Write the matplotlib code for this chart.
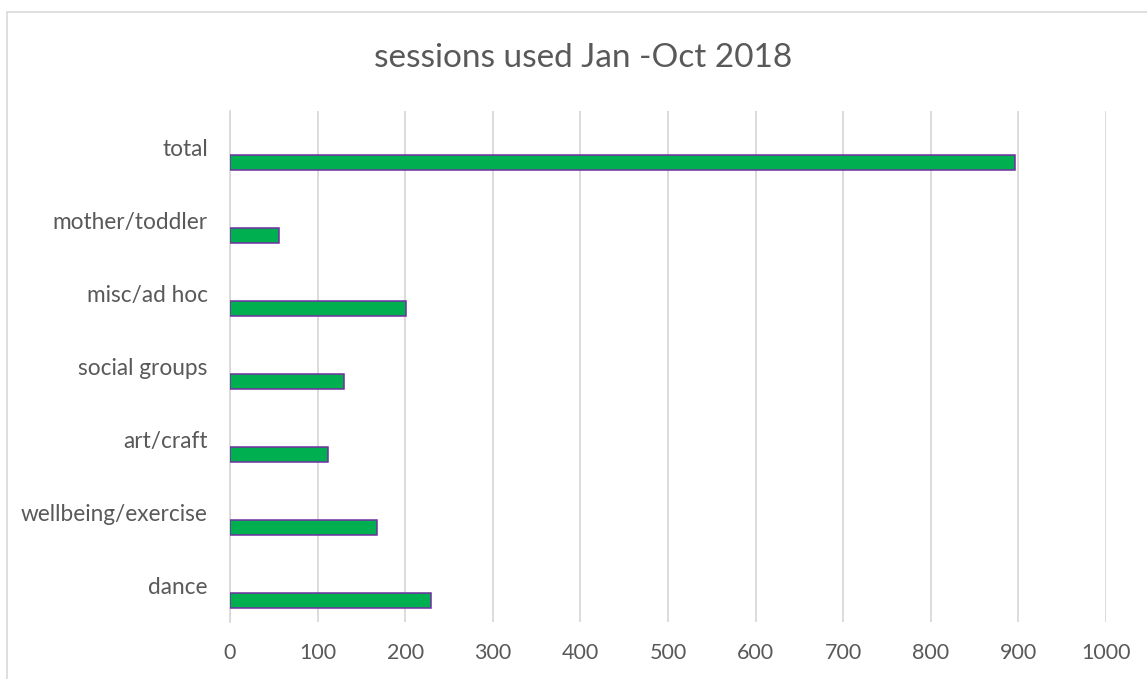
import matplotlib.pyplot as plt
import matplotlib.patches as patches
import numpy as np

# data
categories = ["dance", "wellbeing/exercise", "art/craft", "social groups",
              "misc/ad hoc", "mother/toddler", "total"]
sessions = [229, 168, 112, 130, 201, 56, 896]
x_ticks = [0, 100, 200, 300, 400, 500, 600, 700, 800, 900, 1000]

txt_col = "#595959"
grid_col = "#d9d9d9"

plt.rcParams['font.family'] = ['Lato', 'DejaVu Sans']

fig = plt.figure(figsize=(11.47, 6.79), dpi=100)
ax = fig.add_axes([230/1147, 57/679, 876/1147, 511/679])

y = np.arange(len(categories))
ax.barh(y - 0.205, sessions, height=0.2, color="#00B050",
        edgecolor="#7030A0", linewidth=1.1, zorder=3)

ax.set_xlim(0, 1000)
ax.set_ylim(-0.5, len(categories) - 0.5)
ax.set_xticks(x_ticks)
ax.set_xticklabels([str(v) for v in x_ticks])
ax.set_yticks(y)
ax.set_yticklabels(categories)

ax.tick_params(axis='x', length=0, pad=15, labelsize=15.5, colors=txt_col)
ax.tick_params(axis='y', length=0, pad=16, labelsize=16.3, colors=txt_col)

ax.grid(axis='x', color=grid_col, linewidth=1.3, zorder=0)
for s in ['top', 'right', 'bottom']:
    ax.spines[s].set_visible(False)
ax.spines['left'].set_color(grid_col)
ax.spines['left'].set_linewidth(1.3)

fig.text(583/1147, 1 - 58/679, "sessions used Jan -Oct 2018", ha='center',
         va='center', fontsize=24, color=txt_col)

# chart area border (only top/left visible in the crop)
border = patches.Rectangle((7/1147, -0.1), 1.2, 1 - 12/679 + 0.1,
                           transform=fig.transFigure, fill=False,
                           edgecolor=grid_col, linewidth=1.2)
fig.patches.append(border)

fig.savefig("out.png", dpi=100)
